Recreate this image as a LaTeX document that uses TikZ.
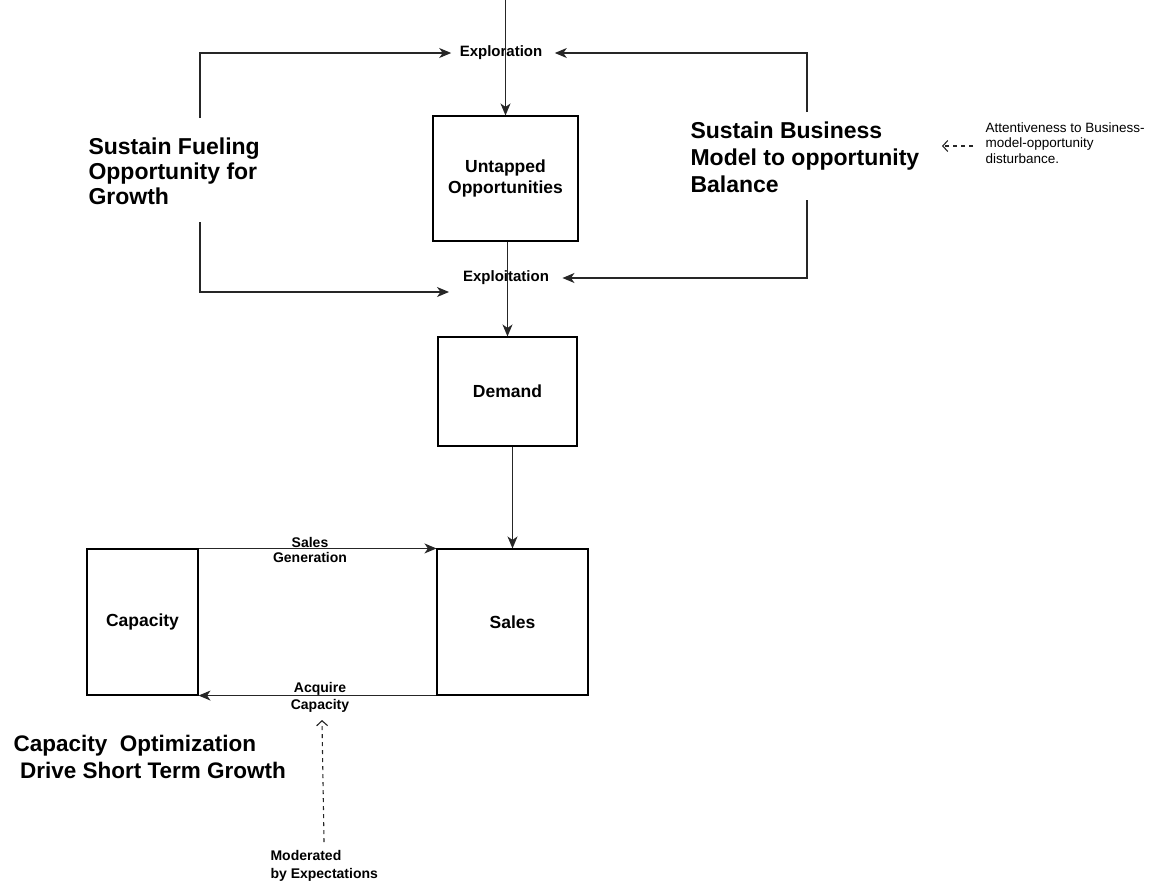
\documentclass[tikz,border=0pt]{standalone}
\usepackage{fontspec}
\setmainfont{Liberation Sans}
\usetikzlibrary{arrows.meta}
\begin{document}
\begin{tikzpicture}[x=1pt,y=-1pt,
  line width=1.1pt,
  box/.style={draw=black, line width=1.1pt, inner sep=0pt, align=center,
    font=\fontsize{17.5}{21}\selectfont\bfseries},
  lbl/.style={inner sep=0pt, font=\fontsize{15}{17}\selectfont\bfseries},
  small/.style={inner sep=0pt, align=center, font=\fontsize{14}{15.5}\selectfont\bfseries},
  big/.style={inner sep=0pt, align=left, anchor=west},
  note/.style={inner sep=0pt, align=left, anchor=west, font=\fontsize{13.5}{15.5}\selectfont},
  flow/.style={draw=black!85, -{Stealth[length=12pt,width=10pt,inset=3.5pt]}},
  dflow/.style={draw=black!85, dash pattern=on 4pt off 4pt, -{Straight Barb[length=5pt,width=11pt]}},
]
\useasboundingbox (0,0) rectangle (1159,884);

% boxes
\node[box, minimum width=145pt, minimum height=125pt] (untapped) at (505.5,178.5) {Untapped\\Opportunities};
\node[box, minimum width=139pt, minimum height=109pt] (demand) at (507.5,391.5) {Demand};
\node[box, minimum width=111pt, minimum height=146pt] (capacity) at (142.5,622) {Capacity};
\node[box, minimum width=151pt, minimum height=146pt] (sales) at (512.5,622) {Sales};

% labels
\node[lbl] (explor) at (501,53) {Exploration};
\node[lbl] (exploit) at (506,278) {Exploitation};
\node[small, font=\fontsize{14}{14.5}\selectfont\bfseries] (salesgen) at (310,550) {Sales\\Generation};
\node[small, font=\fontsize{14}{17}\selectfont\bfseries] (acquire) at (320,697) {Acquire\\Capacity};
\node[small, align=left, anchor=west, font=\fontsize{14}{18}\selectfont\bfseries] (moder) at (270,866) {Moderated\\by Expectations};

\node[big, font=\fontsize{23}{25}\selectfont\bfseries] (fuel) at (88,171) {Sustain Fueling\\Opportunity for\\Growth};
\node[big, font=\fontsize{23}{27}\selectfont\bfseries] (balance) at (690,157) {Sustain Business\\Model to opportunity\\Balance};
\node[big, font=\fontsize{22.5}{27}\selectfont\bfseries] (capopt) at (13,756.5) {Capacity\ \ Optimization\\\hspace*{6.5pt}Drive Short Term Growth};
\node[note] (attent) at (985,143) {Attentiveness to Business-\\model-opportunity\\disturbance.};

% coordinates
\coordinate (top) at (505.5,0);
\coordinate (lt) at (200,118);
\coordinate (lb) at (200,222);
\coordinate (lbend) at (449,292);
\coordinate (rt) at (807,112);
\coordinate (rb) at (807,200);
\coordinate (atip) at (942,146);
\coordinate (dstart) at (324,842);
\coordinate (dend) at (322,720);

% connectors
\draw[flow] (top) -- (untapped.north);
\draw[flow] (demand.north |- untapped.south) -- (demand.north);
\draw[flow] (sales.north |- demand.south) -- (sales.north);

\draw[flow] (lt) |- ([xshift=-8pt]explor.west);
\draw[flow] (lb) |- (lbend);
\draw[flow] (rt) |- ([xshift=12pt]explor.east);
\draw[flow] (rb) |- ([xshift=13pt]exploit.east);

\draw[flow] (capacity.north east) -- (sales.north west);
\draw[flow] (sales.south west) -- (capacity.south east);

\draw[dflow] ([xshift=-12pt]attent.west |- atip) -- (atip);
\draw[dflow] (dstart) -- (dend);
\end{tikzpicture}
\end{document}
